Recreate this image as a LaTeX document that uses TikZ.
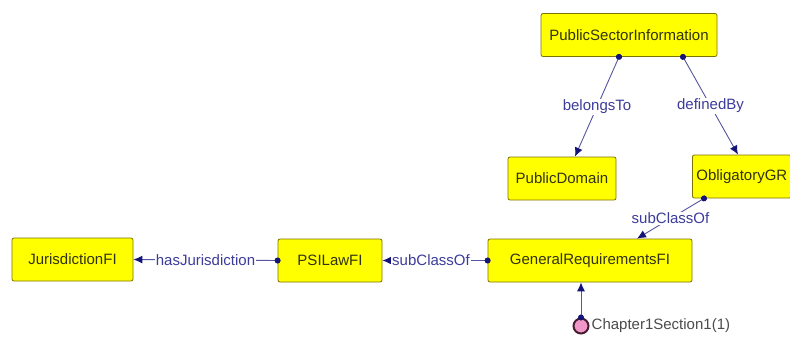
\documentclass[tikz,border=0pt]{standalone}
\usepackage{fontspec}
\setmainfont{Liberation Sans}
\usetikzlibrary{arrows.meta,calc}

\definecolor{clsfill}{RGB}{255,255,0}
\definecolor{clsline}{RGB}{125,115,0}
\definecolor{clstext}{RGB}{50,50,20}
\definecolor{relline}{RGB}{85,85,160}
\definecolor{reltip}{RGB}{20,20,120}
\definecolor{reltext}{RGB}{60,60,155}
\definecolor{instfill}{RGB}{240,150,200}
\definecolor{instline}{RGB}{70,30,50}

\tikzset{
  cls/.style={draw=clsline, fill=clsfill, rounded corners=2pt, thick,
    minimum height=43, inner xsep=6, text=clstext,
    font=\fontsize{15}{18}\selectfont},
  rel/.style={draw=relline, line width=0.9pt, shorten <=-3pt,
    {Circle[length=6pt,color=reltip]}-{Latex[length=9pt,width=8pt,color=reltip]}},
  rellbl/.style={fill=white, inner sep=1pt, text=reltext,
    font=\fontsize{15}{18}\selectfont},
  inst/.style={circle, draw=instline, fill=instfill, line width=2pt,
    minimum size=15, inner sep=0pt}
}

\begin{document}
\begin{tikzpicture}[x=1pt, y=-1pt]
    \useasboundingbox (0,0) rectangle (790,338);
    \fill[white] (0,0) rectangle (790,338);
    \clip (0,0) rectangle (790,338);

    % Classes
    \node[cls, minimum width=176] (psi) at (629,35) {PublicSectorInformation};
    \node[cls, minimum width=108] (pubdom) at (562,178.5) {PublicDomain};
    \node[cls, inner xsep=4, anchor=west] (oblig) at (692,176.5) {ObligatoryGR\hspace{8pt}};
    \node[cls, minimum width=204] (genreq) at (590,260.5) {GeneralRequirementsFI};
    \node[cls, minimum width=104] (psilaw) at (330,260.5) {PSILawFI};
    \node[cls, minimum width=121] (juris) at (72.5,259.5) {JurisdictionFI};

    % Instance
    \node[inst] (chap) at (581,326) {};
    \node[right, text=black!70, font=\fontsize{15}{18}\selectfont, inner xsep=2pt]
      (chaplbl) at (chap.east) {Chapter1Section1(1)};

    % Relations
    \draw[rel] ($(psi.south)+(-10,0)$) -- node[rellbl] {belongsTo} ($(pubdom.north)+(13,0)$);
    \draw[rel] ($(psi.south)+(54,0)$) -- node[rellbl] {definedBy} ($(oblig.north west)+(46,0)$);
    \draw[rel] ($(oblig.south west)+(12,0)$) -- node[rellbl] {subClassOf} ($(genreq.north)+(47,0)$);
    \draw[rel] (genreq.west) -- node[rellbl, xshift=-4] {subClassOf} (psilaw.east);
    \draw[rel] (psilaw.west) -- node[rellbl] {hasJurisdiction} (juris.east);
    \draw[rel] (chap.north) -- (chap |- genreq.south);
\end{tikzpicture}
\end{document}
